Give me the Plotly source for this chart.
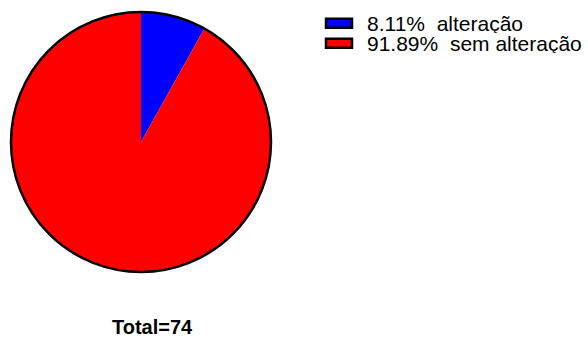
import plotly.graph_objects as go

# Counts per category
labels = ["alteração", "sem alteração"]
counts = [6, 68]
colors = ["#0000FF", "#FF0000"]

total = sum(counts)
pcts = [100 * c / total for c in counts]

W, H = 588, 338
FONT = "Liberation Sans, Arial, sans-serif"

# pie placement in pixels (centre and radius)
cx, cy, r = 141, 142, 130
dom_x = [(cx - r) / W, (cx + r) / W]
dom_y = [(H - cy - r) / H, (H - cy + r) / H]

fig = go.Figure()
fig.add_trace(go.Pie(
    labels=labels, values=counts, sort=False, direction="clockwise",
    rotation=0, textinfo="none", hoverinfo="label+value+percent",
    marker=dict(colors=colors, line=dict(width=0)),
    domain=dict(x=dom_x, y=dom_y), showlegend=False,
))
# outer rim only: a single full-circle slice with transparent fill
fig.add_trace(go.Pie(
    labels=["total"], values=[total], textinfo="none", hoverinfo="skip",
    marker=dict(colors=["rgba(0,0,0,0)"], line=dict(color="black", width=2.5)),
    domain=dict(x=dom_x, y=dom_y), showlegend=False,
))

# hand-built legend: swatch + "pct%  label"
shapes, annotations = [], []
row_y = [23.3, 43.3]
for i, (lab, p, col) in enumerate(zip(labels, pcts, colors)):
    y = row_y[i]
    shapes.append(dict(
        type="rect", xref="paper", yref="paper",
        x0=326 / W, x1=352 / W, y0=(H - y - 4.5) / H, y1=(H - y + 4.5) / H,
        fillcolor=col, line=dict(color="black", width=2.5),
    ))
    annotations.append(dict(
        xref="paper", yref="paper", x=366 / W, y=(H - y) / H,
        xanchor="left", yanchor="middle", showarrow=False,
        height=20, valign="middle", borderpad=0,
        text=f"{p:.2f}%\u00a0\u00a0{lab}",
        font=dict(family=FONT, size=21, color="black"),
    ))

annotations.append(dict(
    xref="paper", yref="paper", x=152 / W, y=(H - 327) / H,
    xanchor="center", yanchor="middle", showarrow=False,
    text=f"<b>Total={total}</b>",
    font=dict(family=FONT, size=20, color="black"),
))

fig.update_layout(
    width=W, height=H, margin=dict(l=0, r=0, t=0, b=0),
    paper_bgcolor="white", plot_bgcolor="white",
    shapes=shapes, annotations=annotations,
)

fig.write_html("out.html")
